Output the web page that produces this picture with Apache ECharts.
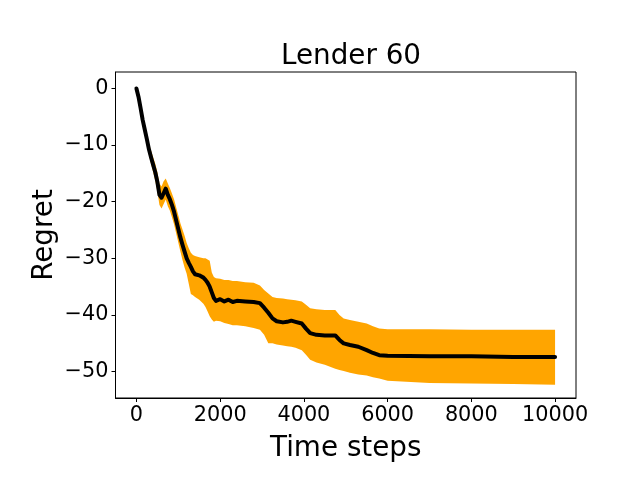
<!DOCTYPE html>
<html>
<head>
<meta charset="utf-8">
<script src="https://cdn.jsdelivr.net/npm/echarts@6/dist/echarts.min.js"></script>
<style>html,body{margin:0;padding:0;background:#fff}#c{width:640px;height:480px}</style>
</head>
<body>
<div id="c"></div>
<script>
var timeSteps = [0,50,100,150,200,250,300,350,400,450,500,550,600,650,700,750,800,850,900,950,1000,1050,1100,1150,1200,1250,1300,1350,1400,1500,1600,1650,1700,1750,1800,1850,1900,2000,2100,2200,2300,2400,2600,2800,2950,3050,3150,3250,3350,3500,3600,3700,3800,3950,4050,4150,4300,4500,4750,4850,4950,5100,5300,5500,5650,5800,6000,7000,8000,9000,10000];
var meanRegret = [0,-1.5,-3.5,-5.6,-7.3,-9.0,-10.8,-12.2,-13.5,-14.8,-16.5,-18.8,-19.3,-18.5,-17.7,-18.8,-19.6,-20.6,-21.8,-23.3,-24.8,-26.3,-27.6,-28.8,-30.0,-30.8,-31.5,-32.3,-32.8,-33.0,-33.4,-33.8,-34.3,-35.0,-36.0,-37.0,-37.5,-37.2,-37.6,-37.3,-37.7,-37.5,-37.6,-37.7,-37.9,-38.7,-39.6,-40.6,-41.1,-41.3,-41.2,-41.0,-41.2,-41.5,-42.4,-43.2,-43.5,-43.6,-43.6,-44.4,-45.0,-45.3,-45.6,-46.2,-46.7,-47.1,-47.2,-47.3,-47.3,-47.4,-47.4];
var upperBand = [0.2,-1.2,-3.0,-4.9,-6.6,-8.1,-9.8,-11.0,-12.2,-13.3,-14.8,-16.8,-17.3,-16.4,-15.9,-16.8,-17.6,-18.6,-19.6,-21.0,-22.4,-23.8,-24.9,-26.0,-27.3,-28.2,-29.0,-29.4,-29.6,-29.8,-30.0,-30.0,-30.2,-30.4,-32.5,-33.3,-33.5,-33.6,-33.8,-33.8,-34.0,-34.0,-34.2,-34.3,-34.8,-35.6,-36.2,-36.8,-37.0,-37.1,-37.2,-37.3,-37.4,-37.6,-38.2,-38.8,-39.0,-39.1,-39.1,-40.0,-40.6,-40.9,-41.2,-41.5,-42.0,-42.4,-42.5,-42.5,-42.6,-42.6,-42.6];
var lowerBand = [-0.2,-1.8,-4.0,-6.3,-8.0,-9.9,-11.8,-13.4,-14.8,-16.3,-18.2,-20.6,-21.2,-20.4,-19.6,-20.8,-21.6,-22.8,-24.0,-25.6,-27.2,-28.8,-30.3,-31.6,-32.7,-34.5,-36.3,-36.5,-36.8,-37.3,-38.0,-38.6,-39.4,-40.2,-40.8,-41.2,-41.0,-41.1,-41.4,-41.6,-41.8,-41.8,-42.0,-42.3,-42.6,-43.5,-45.0,-45.0,-45.2,-45.4,-45.5,-45.6,-45.8,-46.2,-47.0,-47.9,-48.4,-48.8,-49.5,-49.7,-49.9,-50.2,-50.5,-50.7,-51.0,-51.2,-51.6,-52.0,-52.1,-52.2,-52.3];
var xTicks = [0,2000,4000,6000,8000,10000];
var yTicks = [-50,-40,-30,-20,-10,0];

var FONT = 'DejaVu Sans';
var chart = echarts.init(document.getElementById('c'), null, {renderer: 'canvas'});
var bandData = timeSteps.map(function (t, i) { return [t, lowerBand[i], upperBand[i]]; });
var meanData = timeSteps.map(function (t, i) { return [t, meanRegret[i]]; });

function fmtY(v) { return v < 0 ? '\u2212' + Math.abs(v) : String(v); }
function fmtX(v) { return String(v); }

chart.setOption({
  animation: false,
  backgroundColor: '#ffffff',
  title: {
    text: 'Lender 60',
    left: 346,
    top: 38,
    textAlign: 'center',
    textStyle: {fontFamily: FONT, fontSize: 27.8, fontWeight: 'normal', color: '#000'}
  },
  grid: {
    left: 115.5, right: 64, top: 72, bottom: 82,
    show: true, borderColor: '#000', borderWidth: 1, backgroundColor: 'transparent'
  },
  xAxis: {
    type: 'value', min: -500, max: 10500,
    name: 'Time steps', nameLocation: 'middle', nameGap: 37, nameMoveOverlap: false,
    nameTextStyle: {fontFamily: FONT, fontSize: 27.8, color: '#000'},
    axisLine: {show: true, onZero: false, lineStyle: {color: '#000', width: 1}},
    axisTick: {show: true, inside: false, length: 4, lineStyle: {color: '#000'}, customValues: xTicks},
    axisLabel: {show: true, fontFamily: FONT, fontSize: 20.8, color: '#000', margin: 7, formatter: fmtX, customValues: xTicks},
    splitLine: {show: false}
  },
  yAxis: {
    type: 'value', min: -54.65, max: 2.9,
    name: 'Regret', nameLocation: 'middle', nameGap: 57, nameRotate: 90, nameMoveOverlap: false,
    nameTextStyle: {fontFamily: FONT, fontSize: 27.8, color: '#000'},
    axisLine: {show: true, onZero: false, lineStyle: {color: '#000', width: 1}},
    axisTick: {show: true, inside: false, length: 4, lineStyle: {color: '#000'}, customValues: yTicks},
    axisLabel: {show: true, fontFamily: FONT, fontSize: 20.8, color: '#000', margin: 7, formatter: fmtY, customValues: yTicks},
    splitLine: {show: false}
  },
  series: [
    {
      type: 'custom',
      data: bandData,
      encode: {x: 0, y: [1, 2]},
      renderItem: function (params, api) {
        if (params.dataIndex !== 0) return null;
        var pts = [];
        for (var i = 0; i < bandData.length; i++) pts.push(api.coord([bandData[i][0], bandData[i][2]]));
        for (var j = bandData.length - 1; j >= 0; j--) pts.push(api.coord([bandData[j][0], bandData[j][1]]));
        return {type: 'polygon', shape: {points: pts}, style: {fill: '#FFA500', stroke: null}};
      },
      z: 1
    },
    {
      type: 'line',
      data: meanData,
      showSymbol: false,
      lineStyle: {color: '#000', width: 4, cap: 'round', join: 'round'},
      z: 2
    }
  ]
});
</script>
</body>
</html>
